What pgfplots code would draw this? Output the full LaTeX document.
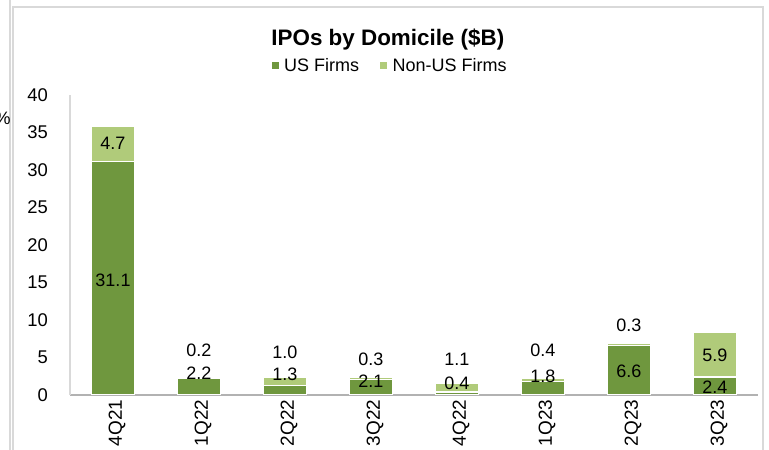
\documentclass[border=0pt]{standalone}
\usepackage{pgfplots}
\pgfplotsset{compat=1.18}
\usepackage{fontspec}
\setmainfont{Liberation Sans}
\definecolor{usgreen}{HTML}{6F973E}
\definecolor{nongreen}{HTML}{B0CB7A}
\definecolor{framegray}{HTML}{D9D9D9}
\begin{document}
\begin{tikzpicture}
\useasboundingbox (-52.5pt,-41.25pt) rectangle (524.25pt,296.25pt);
\clip (-52.5pt,-41.25pt) rectangle (524.25pt,296.25pt);
% frame remnants of the screenshot
\draw[framegray, line width=0.8pt] (-45pt,296.25pt) -- (-45pt,-41.25pt);
\draw[framegray, line width=0.8pt] (-42.75pt,-41.25pt) -- (-42.75pt,291pt) -- (519.75pt,291pt) -- (519.75pt,-41.25pt);
\node[anchor=center, font=\fontsize{13.5}{16}\selectfont] at (-50.5pt,207.75pt) {\%};
\begin{axis}[
  at={(0,0)}, anchor=south west,
  scale only axis, width=516pt, height=225pt,
  ybar stacked, bar width=0.5,
  xmin=-0.5, xmax=7.5, ymin=0, ymax=40,
  xtick={0,...,7},
  xticklabels={4Q21,1Q22,2Q22,3Q22,4Q22,1Q23,2Q23,3Q23},
  ytick={0,5,...,40},
  major tick length=0pt,
  axis lines*=left,
  x axis line style={draw=gray!60, line width=0.8pt},
  y axis line style={draw=framegray, line width=0.8pt},
  /pgf/number format/assume math mode=true,
  tick label style={font=\fontsize{13.8}{16}\selectfont},
  yticklabel style={xshift=-13pt},
  xticklabel style={rotate=90, anchor=east, yshift=-3pt, font=\fontsize{14.2}{16}\selectfont},
  title={\textbf{IPOs by Domicile (\$B)}},
  title style={at={(0.462,1.157)}, anchor=center, font=\fontsize{16.8}{20}\selectfont},
  legend style={at={(0.466,1.097)}, anchor=center, draw=none, fill=none,
    legend columns=2, font=\fontsize{13.5}{16}\selectfont,
    /tikz/every even column/.append style={column sep=14pt},
    /tikz/every odd column/.append style={column sep=2pt}},
  legend image code/.code={\fill[#1,draw=none] (0pt,-2.6pt) rectangle (5.2pt,2.6pt);},
]
\addplot[fill=usgreen, draw=white, line width=1pt] coordinates
  {(0,31.1) (1,2.2) (2,1.3) (3,2.1) (4,0.4) (5,1.8) (6,6.6) (7,2.4)};
\addlegendentry{US Firms}
\addplot[fill=nongreen, draw=white, line width=1pt] coordinates
  {(0,4.7) (1,0.2) (2,1.0) (3,0.3) (4,1.1) (5,0.4) (6,0.3) (7,5.9)};
\addlegendentry{Non-US Firms}
\end{axis}
% data labels (positioned where the reference shows them)
\begin{axis}[
  at={(0,0)}, anchor=south west,
  scale only axis, width=516pt, height=225pt,
  xmin=-0.5, xmax=7.5, ymin=0, ymax=40,
  hide axis, clip=false,
  every node near coord/.style={anchor=center, font=\fontsize{13.5}{16}\selectfont, text=black},
]
\addplot[only marks, mark=none, nodes near coords, point meta=explicit symbolic]
  table[meta=label] {
x y label
0 33.6 4.7
0 15.3 31.1
1 6.0 0.2
1 2.9 2.2
2 5.7 1.0
2 2.8 1.3
3 4.8 0.3
3 1.9 2.1
4 4.7 1.1
4 1.6 0.4
5 6.0 0.4
5 2.5 1.8
6 9.3 0.3
6 3.1 6.6
7 5.3 5.9
7 1.1 2.4
};
\end{axis}
\end{tikzpicture}
\end{document}
